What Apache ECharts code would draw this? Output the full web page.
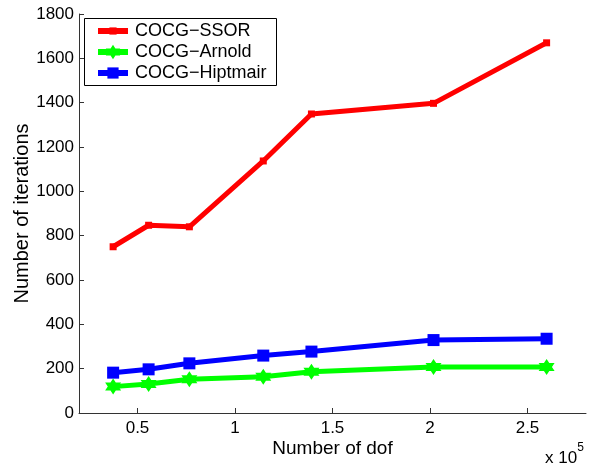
<!DOCTYPE html>
<html>
<head>
<meta charset="utf-8">
<script src="https://cdn.jsdelivr.net/npm/echarts@6/dist/echarts.min.js"></script>
<style>html,body{margin:0;padding:0;background:#fff}#c{width:592px;height:466px}</style>
</head>
<body>
<div id="c"></div>
<script>
const dof = [37500, 55700, 76600, 114500, 139200, 201800, 259800];
const ssor = [750, 847, 840, 1137, 1349, 1397, 1670];
const arnold = [119, 131, 152, 164, 186, 207, 207];
const hiptmair = [182, 197, 224, 259, 277, 329, 335];
const xTicks = [50000, 100000, 150000, 200000, 250000];
const seriesNames = ['COCG\u2212SSOR', 'COCG\u2212Arnold', 'COCG\u2212Hiptmair'];

const hexagram = 'path://M0,-10 L2.89,-5 L8.66,-5 L5.77,0 L8.66,5 L2.89,5 L0,10 L-2.89,5 L-8.66,5 L-5.77,0 L-8.66,-5 L-2.89,-5 Z';
const pairs = arr => dof.map((x, i) => [x, arr[i]]);
const FONT = 'Liberation Sans, Arial, Helvetica, sans-serif';

function legendRow(name, top, itemHeight) {
  return {
    orient: 'vertical', left: 95, top: top, padding: 0,
    itemWidth: 30, itemHeight: itemHeight, itemGap: 0,
    lineStyle: {width: 6},
    textStyle: {fontSize: 18, color: '#000', lineHeight: 20, fontFamily: FONT, padding: [0, 0, 0, 2]},
    data: [name]
  };
}

const chart = echarts.init(document.getElementById('c'), null, {renderer: 'canvas'});
chart.setOption({
  animation: false,
  backgroundColor: '#fff',
  textStyle: {fontFamily: FONT},
  grid: {left: 79, top: 14, right: 6, bottom: 53, containLabel: false},
  xAxis: {
    type: 'value', min: 20000, max: 280000,
    name: 'Number of dof', nameLocation: 'middle', nameGap: 26, nameMoveOverlap: false,
    nameTextStyle: {fontSize: 19, color: '#000', fontFamily: FONT},
    axisLine: {show: true, lineStyle: {color: '#333', width: 1}},
    axisTick: {show: true, inside: true, length: 5, customValues: xTicks, lineStyle: {color: '#333'}},
    axisLabel: {customValues: xTicks, fontSize: 17, color: '#000', margin: 7, fontFamily: FONT,
      formatter: v => String(v / 100000)},
    splitLine: {show: false}
  },
  yAxis: {
    type: 'value', min: 0, max: 1800, interval: 200,
    name: 'Number of iterations', nameLocation: 'middle', nameGap: 47, nameMoveOverlap: false,
    nameTextStyle: {fontSize: 20, color: '#000', fontFamily: FONT},
    axisLine: {show: true, lineStyle: {color: '#333', width: 1}},
    axisTick: {show: true, inside: true, length: 5, lineStyle: {color: '#333'}},
    axisLabel: {fontSize: 17, color: '#000', margin: 5, fontFamily: FONT, formatter: v => String(v)},
    splitLine: {show: false}
  },
  legend: [
    legendRow(seriesNames[0], 21, 9),
    legendRow(seriesNames[1], 42, 18),
    legendRow(seriesNames[2], 63, 14)
  ],
  series: [
    {name: seriesNames[0], type: 'line', data: pairs(ssor), color: '#ff0000',
     lineStyle: {width: 5, color: '#ff0000'}, symbol: 'rect', symbolSize: 7,
     itemStyle: {color: '#ff0000'}},
    {name: seriesNames[1], type: 'line', data: pairs(arnold), color: '#00ff00',
     lineStyle: {width: 5, color: '#00ff00'}, symbol: hexagram, symbolSize: 16,
     itemStyle: {color: '#00ff00'}},
    {name: seriesNames[2], type: 'line', data: pairs(hiptmair), color: '#0000ff',
     lineStyle: {width: 5, color: '#0000ff'}, symbol: 'rect', symbolSize: 12,
     itemStyle: {color: '#0000ff'}}
  ],
  graphic: [
    {type: 'rect', left: 84, top: 18, z: 0,
     shape: {width: 192, height: 67},
     style: {fill: '#fff', stroke: '#000', lineWidth: 1}},
    {
    type: 'text', left: 545, top: 442,
    style: {
      text: '{a|x 10}{b|5}', fill: '#000',
      rich: {
        a: {fontSize: 17, fontFamily: FONT, fill: '#000', verticalAlign: 'bottom', padding: [8, 0, 0, 0]},
        b: {fontSize: 12, fontFamily: FONT, fill: '#000', verticalAlign: 'top', padding: [0, 0, 10, 0]}
      }
    }
  }]
});
</script>
</body>
</html>
